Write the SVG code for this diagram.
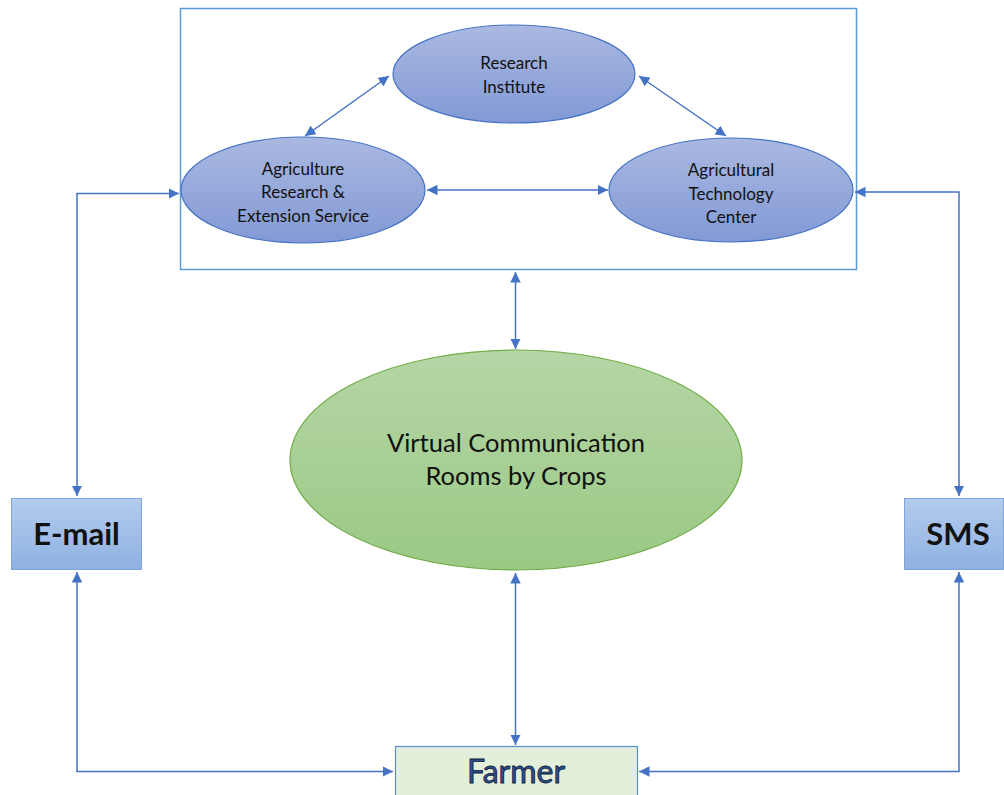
<svg xmlns="http://www.w3.org/2000/svg" width="1004" height="795" viewBox="0 0 1004 795">
  <defs>
    <linearGradient id="gBlue" x1="0" y1="0" x2="0" y2="1">
      <stop offset="0" stop-color="#aab9e1"/>
      <stop offset="1" stop-color="#8299d5"/>
    </linearGradient>
    <linearGradient id="gGreen" x1="0" y1="0" x2="0" y2="1">
      <stop offset="0" stop-color="#b5d6a6"/>
      <stop offset="1" stop-color="#9bc985"/>
    </linearGradient>
    <linearGradient id="gBox" x1="0" y1="0" x2="0" y2="1">
      <stop offset="0" stop-color="#b4cced"/>
      <stop offset="1" stop-color="#8fb1e2"/>
    </linearGradient>
    <marker id="arr" viewBox="0 0 10 10" refX="10" refY="5" markerWidth="7" markerHeight="7" markerUnits="strokeWidth" orient="auto-start-reverse">
      <path d="M0,0 L10,5 L0,10 z" fill="#4472c4"/>
    </marker>
    <style>
      .conn { fill: none; stroke: #4472c4; stroke-width: 1.5; marker-start: url(#arr); marker-end: url(#arr); }
      .oval { fill: url(#gBlue); stroke: #4472c4; stroke-width: 1.2; }
      .lbl { font-family: Lato, "Open Sans", "Liberation Sans", sans-serif; fill: #111; text-anchor: middle; }
      .small { font-size: 17px; }
      .mid { font-size: 25.5px; }
      .big { font-size: 31px; font-weight: bold; }
      .farmer { font-size: 32px; fill: #2f5091; stroke: #0b1a33; stroke-width: 0.8; }
    </style>
  </defs>

  <!-- outer frame around the institutions -->
  <rect id="frame" x="180.5" y="8.5" width="676" height="261" fill="#fff" stroke="#5b9bd5" stroke-width="1.5"/>

  <g id="connectors">
    <line class="conn" x1="389" y1="76" x2="305" y2="136"/>
    <line class="conn" x1="639" y1="76" x2="726" y2="136"/>
    <line class="conn" x1="427" y1="190" x2="608" y2="190"/>
    <line class="conn" x1="515.5" y1="272" x2="515.5" y2="349"/>
    <line class="conn" x1="515.5" y1="573" x2="515.5" y2="745"/>
    <polyline class="conn" points="77,496 77,193.5 179,193.5"/>
    <polyline class="conn" points="959,496 959,192 855,192"/>
    <polyline class="conn" points="77,572 77,771.5 393,771.5"/>
    <polyline class="conn" points="959,572 959,771.5 639,771.5"/>
  </g>

  <g id="research-institute">
    <ellipse class="oval" cx="514" cy="74" rx="121" ry="49"/>
    <text class="lbl small" x="514" y="69">Research</text>
    <text class="lbl small" x="514" y="93">Institute</text>
  </g>

  <g id="agri-research-extension">
    <ellipse class="oval" cx="303" cy="190" rx="122" ry="53"/>
    <text class="lbl small" x="303" y="175">Agriculture</text>
    <text class="lbl small" x="303" y="198">Research &amp;</text>
    <text class="lbl small" x="303" y="222">Extension Service</text>
  </g>

  <g id="agri-tech-center">
    <ellipse class="oval" cx="731" cy="190" rx="122" ry="52"/>
    <text class="lbl small" x="731" y="176">Agricultural</text>
    <text class="lbl small" x="731" y="200">Technology</text>
    <text class="lbl small" x="731" y="223">Center</text>
  </g>

  <g id="virtual-rooms">
    <ellipse cx="516" cy="460" rx="226" ry="110" fill="url(#gGreen)" stroke="#70ad47" stroke-width="1.2"/>
    <text class="lbl mid" x="516" y="452">Virtual Communication</text>
    <text class="lbl mid" x="516" y="485">Rooms by Crops</text>
  </g>

  <g id="email">
    <rect x="11.5" y="498.5" width="130" height="71" fill="url(#gBox)" stroke="#7fa6dc" stroke-width="1"/>
    <text class="lbl big" x="76.5" y="545">E-mail</text>
  </g>

  <g id="sms">
    <rect x="904.5" y="498.5" width="99" height="71" fill="url(#gBox)" stroke="#7fa6dc" stroke-width="1"/>
    <text class="lbl big" x="958" y="545">SMS</text>
  </g>

  <g id="farmer">
    <rect x="395.5" y="746.5" width="242" height="60" fill="#e2efda" stroke="#5b8fd0" stroke-width="1.2"/>
    <text class="lbl farmer" x="516" y="783">Farmer</text>
  </g>
</svg>
